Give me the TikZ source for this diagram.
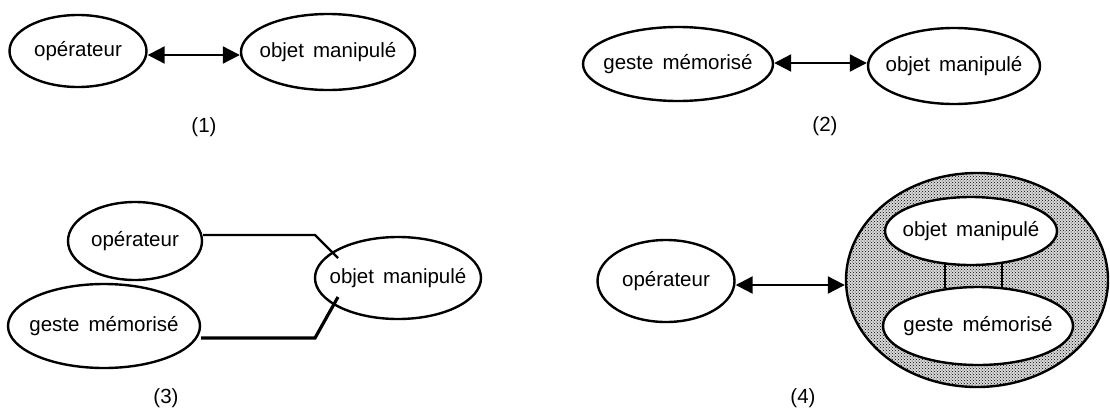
\documentclass[tikz,border=0pt]{standalone}
\usepackage{fontspec}
\setmainfont{Liberation Sans}
\usetikzlibrary{shapes.geometric,arrows.meta,patterns}
\begin{document}
\begin{tikzpicture}[x=1pt,y=-1pt,
  ell/.style={draw,ellipse,line width=2.4pt,inner sep=0pt,fill=white,
    label={[font=\fontsize{20.5}{24}\selectfont]center:#1}},
  dbl/.style={line width=2.2pt,{Triangle[length=17pt,width=17pt]}-{Triangle[length=17pt,width=17pt]}},
  conn/.style={line width=2.4pt},
  lbl/.style={font=\fontsize{20.5}{24}\selectfont}]
\useasboundingbox (0,0) rectangle (1110,418);
% (1)
\node[ell=opérateur,minimum width=137pt,minimum height=72pt] (op1) at (78,51) {};
\node[ell=objet\, manipulé,minimum width=174pt,minimum height=76pt] (ob1) at (328,52) {};
\draw[dbl] (op1.east |- 0,55) -- (ob1.west |- 0,55);
\node[lbl] (l1) at (204,127) {(1)};
% (2)
\node[ell=geste\, mémorisé,minimum width=190pt,minimum height=74pt] (ge2) at (678,64) {};
\node[ell=objet\, manipulé,minimum width=172pt,minimum height=76pt] (ob2) at (954,66) {};
\draw[dbl] (ge2.east |- 0,63) -- (ob2.west |- 0,63);
\node[lbl] (l2) at (825,126) {(2)};
% (3)
\node[ell=opérateur,minimum width=134pt,minimum height=78pt] (op3) at (135,241) {};
\node[ell=geste\, mémorisé,minimum width=192pt,minimum height=84pt] (ge3) at (104,326) {};
\node[ell=objet\, manipulé,minimum width=166pt,minimum height=82pt] (ob3) at (398,278) {};
\coordinate (c1) at (315,235);
\coordinate (c2) at (315,338);
\coordinate (e1) at (338,258);
\coordinate (e2) at (338,297);
\draw[conn] (op3.east |- c1) -- (c1) -- (e1);
\draw[conn,line width=3.2pt] (ge3.east |- c2) -- (c2) -- (e2);
\node[lbl] (l3) at (166,398) {(3)};
% (4)
\node[draw,ellipse,line width=2.4pt,minimum width=262pt,minimum height=214pt,inner sep=0pt,
  preaction={fill=gray!30},pattern=crosshatch dots,pattern color=black] (big) at (977,280) {};
\node[ell=objet\, manipulé,minimum width=172pt,minimum height=68pt] (ob4) at (971,231) {};
\node[ell=geste\, mémorisé,minimum width=190pt,minimum height=78pt] (ge4) at (978,326) {};
\node[ell=opérateur,minimum width=137pt,minimum height=82pt] (op4) at (666,281) {};
\draw[line width=2pt] (945,264) -- (945,288);
\draw[line width=2pt] (1002,264) -- (1002,288);
\draw[dbl] (op4.east |- 0,285) -- (big.west |- 0,285);
\node[lbl] (l4) at (803,398) {(4)};
\end{tikzpicture}
\end{document}
